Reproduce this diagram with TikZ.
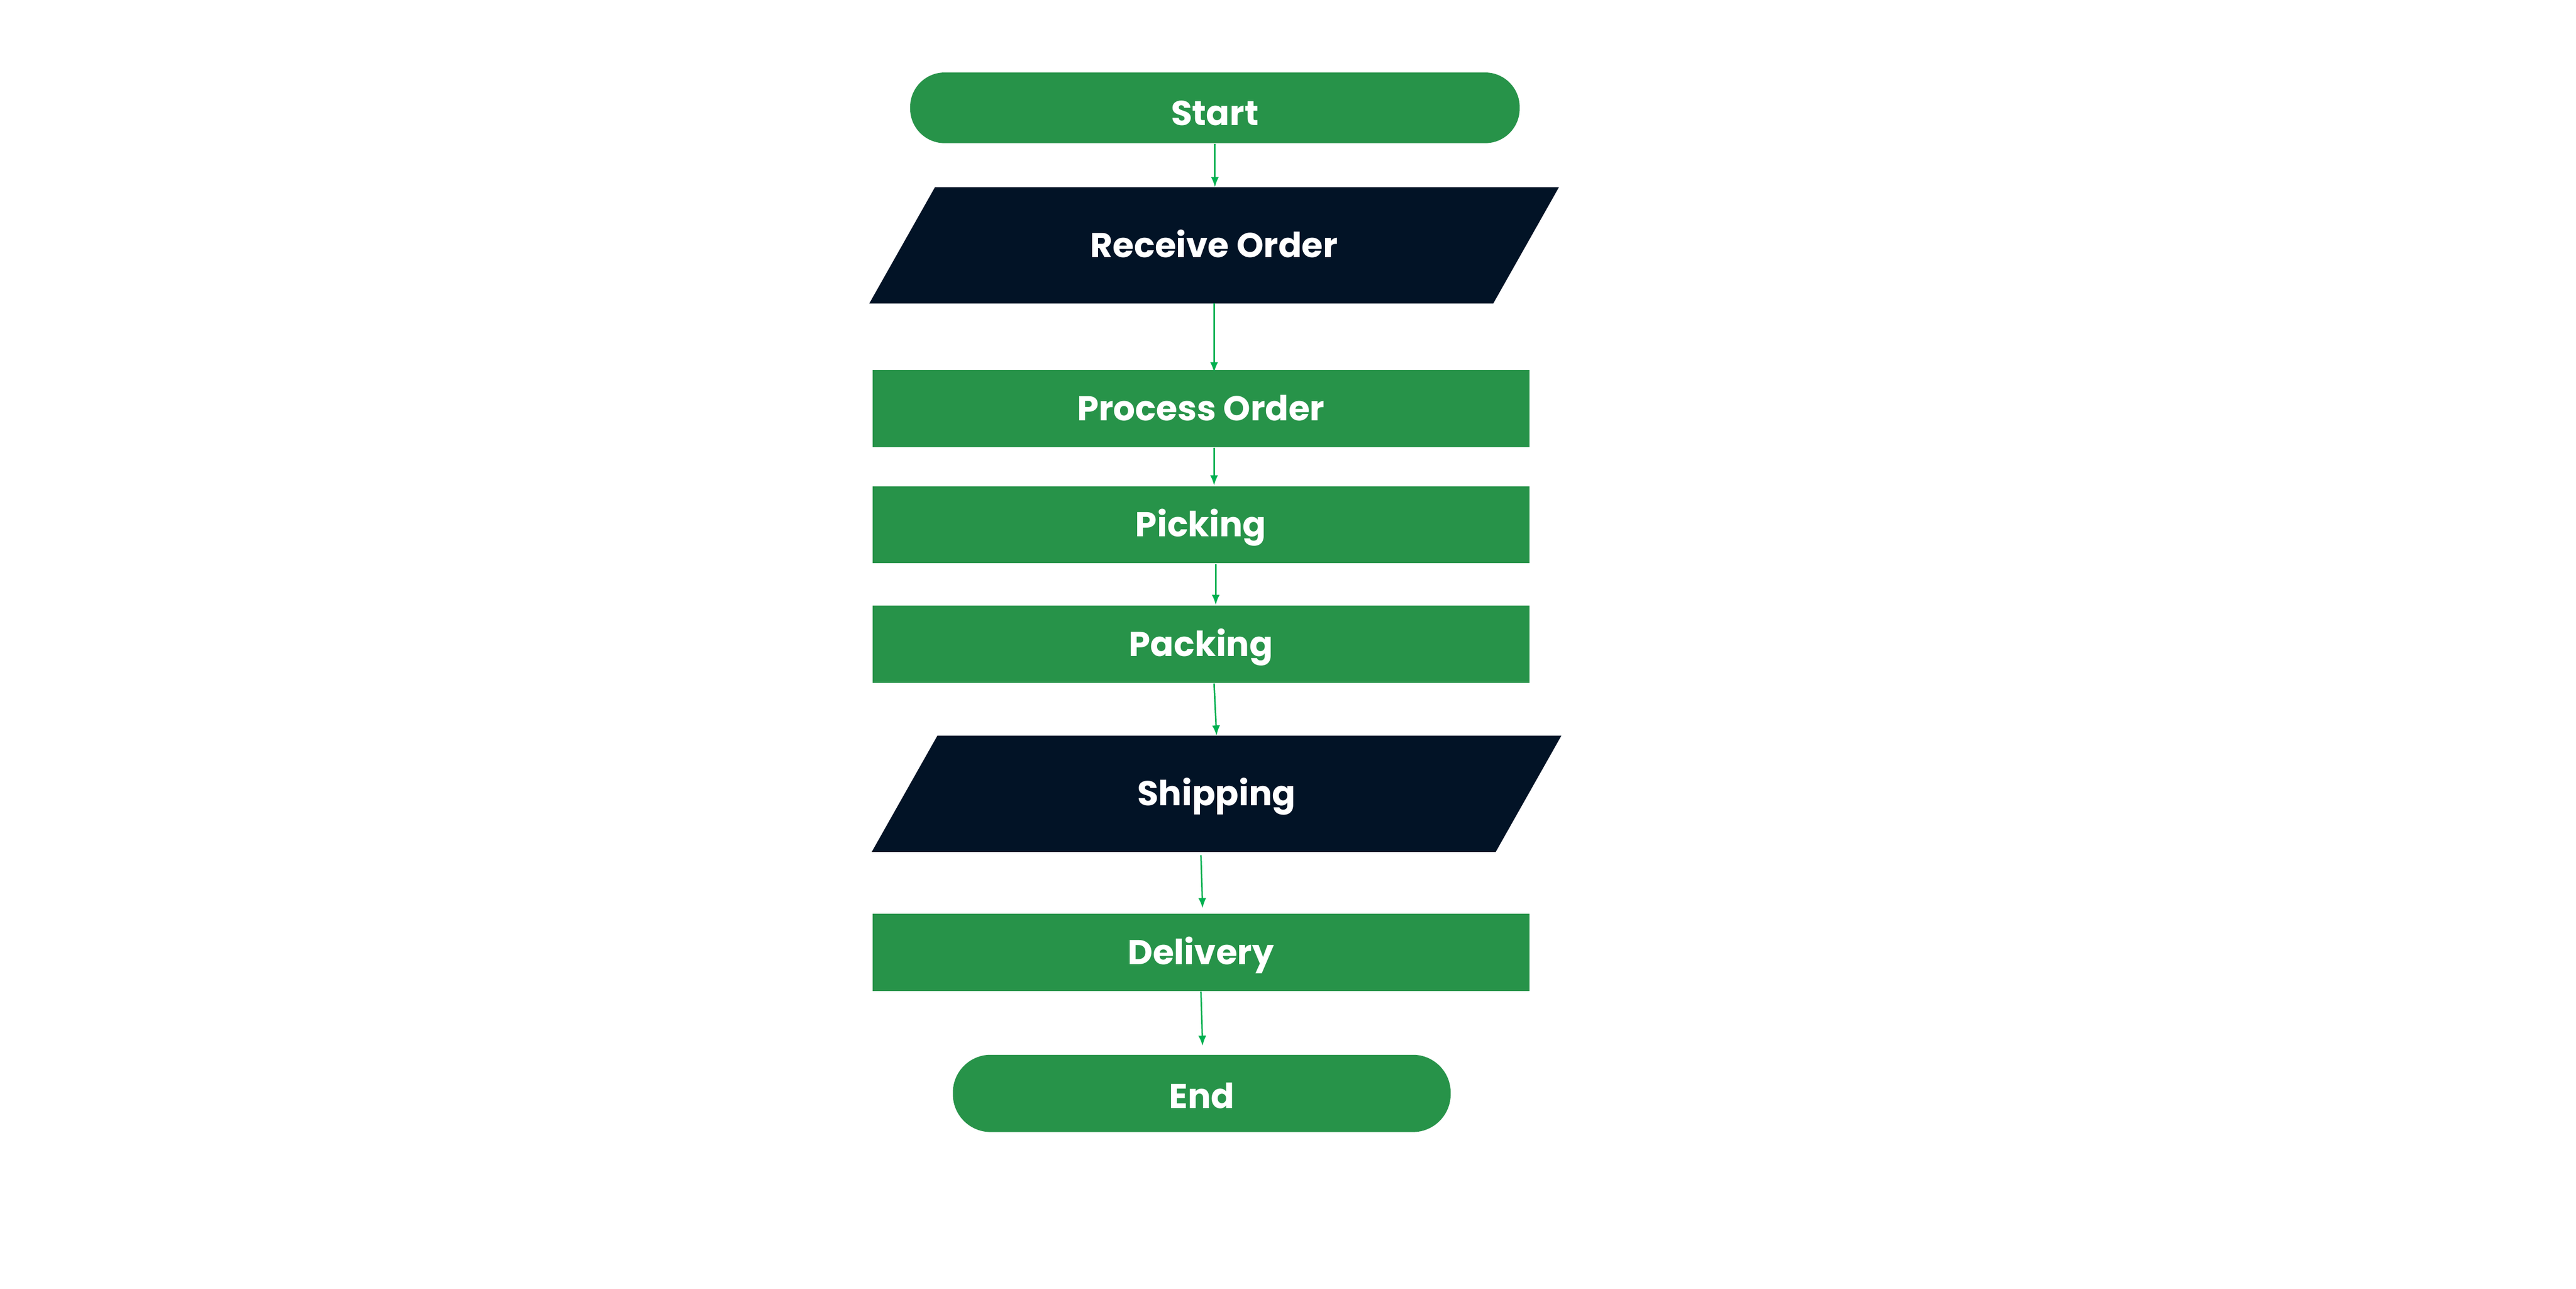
\documentclass[tikz,border=0pt]{standalone}
\usepackage{fontspec}
\setmainfont{Poppins}
\usetikzlibrary{calc,arrows.meta}
\definecolor{flowgreen}{HTML}{279349}
\definecolor{flownavy}{HTML}{021326}
\definecolor{arrowgreen}{HTML}{00B050}
\pgfdeclarelayer{bg}
\pgfsetlayers{bg,main}
\begin{document}
\begin{tikzpicture}[x=0.5pt,y=-0.5pt,
  base/.style={inner sep=0pt, text=white, text height=7.3pt, text depth=0pt,
    font=\fontsize{10.5}{12}\selectfont\bfseries},
  term/.style={base, fill=flowgreen},
  procbox/.style={base, fill=flowgreen, minimum width=200pt, minimum height=23.5pt},
  iobox/.style={base, minimum width=189.5pt, minimum height=35pt},
  iofill/.style={fill=flownavy},
  flow/.style={draw=arrowgreen, line width=0.45pt, -{Latex[length=3.1pt,width=2.4pt]}}]
\path[use as bounding box] (0,0) rectangle (1568,784);

\node[term, minimum width=185.5pt, minimum height=21.5pt, rounded corners=10.5pt, text height=10.6pt] (start) at (739.5,65.6) {Start};
\node[iobox] (recv) at (739,149.3) {Receive Order};
\node[procbox] (proc) at (731,248.5) {Process Order};
\node[procbox] (pick) at (731,319.3) {Picking};
\node[procbox] (pack) at (731,392) {Packing};
\node[iobox] (ship) at (740.5,483) {Shipping};
\node[procbox] (deliv) at (731,579.5) {Delivery};
\node[term, minimum width=151.5pt, minimum height=23.5pt, rounded corners=11.5pt, text height=9pt] (stop) at (731.5,665.3) {End};

\begin{pgfonlayer}{bg}
\fill[white] (0,0) rectangle (1568,784);
\fill[iofill] ($(recv.north west)+(20,0)$) -- ($(recv.north east)+(20,0)$) -- ($(recv.south east)+(-20,0)$) -- ($(recv.south west)+(-20,0)$) -- cycle;
\fill[iofill] ($(ship.north west)+(20,0)$) -- ($(ship.north east)+(20,0)$) -- ($(ship.south east)+(-20,0)$) -- ($(ship.south west)+(-20,0)$) -- cycle;
\end{pgfonlayer}

\draw[flow] (start.south) -- (start.south |- recv.north);
\draw[flow] (recv.south) -- ($(recv.south |- proc.north)+(0,2)$);
\draw[flow] ($(proc.south)+(8,0)$) -- ($(pick.north)+(8,0)$);
\draw[flow] ($(pick.south)+(9,0)$) -- ($(pack.north)+(9,0)$);
\draw[flow] ($(pack.south)+(8,0)$) -- (ship.north);
\draw[flow] ($(ship.south)+(-9.5,2)$) -- ($(deliv.north)+(1,-3)$);
\draw[flow] (deliv.south) -- ($(stop.north)+(0.5,-5)$);
\end{tikzpicture}
\end{document}
